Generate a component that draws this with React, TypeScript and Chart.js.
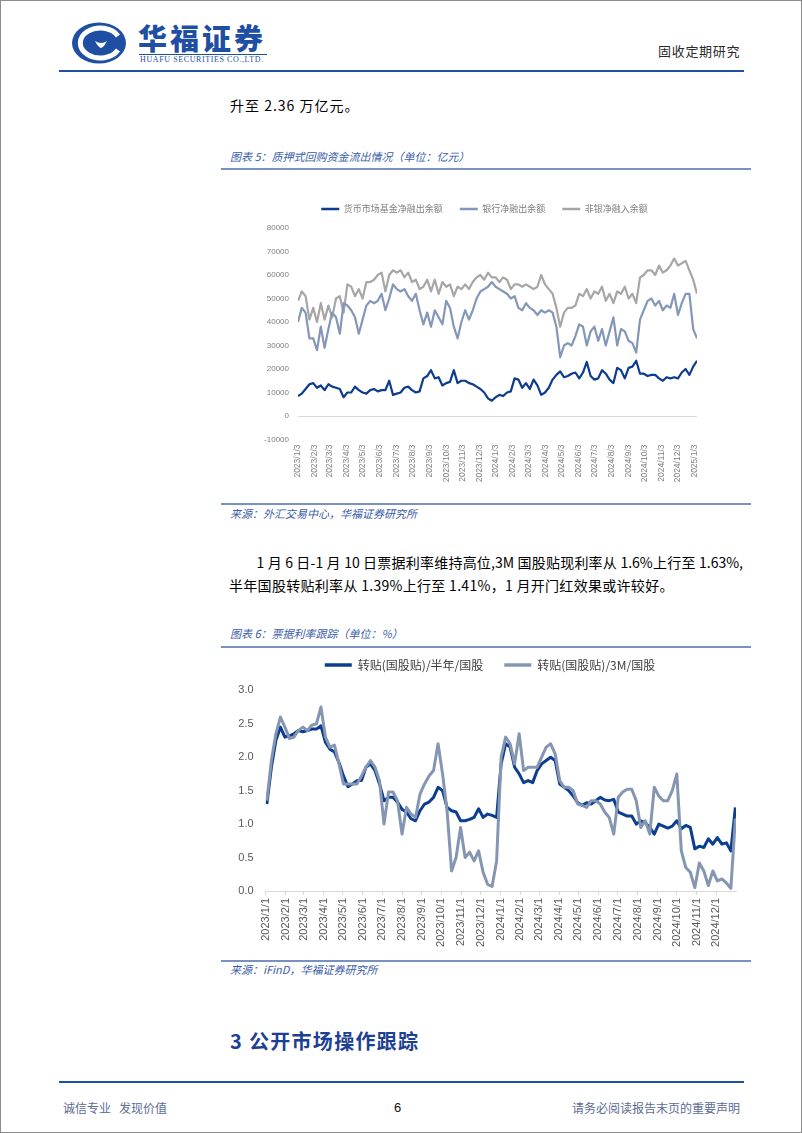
import React, { useEffect, useRef } from "react";
import { Chart, registerables } from "chart.js";
Chart.register(...registerables);

const CJK = '"Noto Sans CJK SC", "Noto Sans", sans-serif';
const NUM = '"Liberation Sans", Arial, sans-serif';

// ---------- 图表5 data (weekly samples, 亿元) ----------
const repoStart = "2023/1/3";
const repoStepDays = 7;
const repoAxisEnd = "2025/1/7";
const repoTickLabels = [
  "2023/1/3", "2023/2/3", "2023/3/3", "2023/4/3", "2023/5/3", "2023/6/3", "2023/7/3", "2023/8/3",
  "2023/9/3", "2023/10/3", "2023/11/3", "2023/12/3", "2024/1/3", "2024/2/3", "2024/3/3", "2024/4/3",
  "2024/5/3", "2024/6/3", "2024/7/3", "2024/8/3", "2024/9/3", "2024/10/3", "2024/11/3", "2024/12/3", "2025/1/3",
];
const repoSeriesNames = ["货币市场基金净融出余额", "银行净融出余额", "非银净融入余额"];
const moneyFundNet = [
  8500, 9500, 11500, 13500, 14000, 12000, 13000, 11000, 13500, 12500,
  12000, 11500, 8000, 10000, 10000, 12500, 11000, 10000, 9500, 11000,
  11500, 10500, 11000, 11000, 15000, 9000, 9500, 10000, 12000, 12500,
  11000, 10000, 10500, 16000, 17000, 19500, 16000, 16500, 13000, 14000,
  14500, 19500, 14000, 15000, 15000, 14000, 13500, 12500, 11500, 10000,
  7500, 6500, 8000, 9000, 8500, 10000, 10500, 16000, 15500, 12000,
  14000, 11500, 15500, 13000, 9000, 10000, 12000, 15500, 17500, 19000,
  16500, 17000, 18000, 18500, 16000, 18500, 23000, 17000, 15500, 16000,
  19500, 18000, 15500, 14000, 20500, 19500, 16000, 20500, 21000, 23500,
  18000, 18000, 17000, 17500, 17500, 16000, 15000, 16500, 16000, 16500,
  16000, 18500, 20000, 17500, 21000, 23500,
];
const bankNet = [
  40000, 46000, 44000, 33000, 33000, 28000, 38000, 29000, 37000, 44000,
  42000, 35000, 48000, 47000, 45000, 42000, 35000, 41000, 47000, 49000,
  48000, 49000, 52000, 45000, 50000, 56000, 54000, 53000, 54000, 51000,
  49000, 52000, 45000, 39000, 44000, 38000, 45000, 42000, 39000, 49000,
  46000, 38000, 33000, 40000, 45000, 41000, 45000, 50000, 53000, 54000,
  55000, 57000, 55000, 54000, 53000, 52000, 50000, 51000, 46000, 45000,
  48000, 46000, 45000, 43000, 45000, 44000, 45000, 44000, 38000, 25000,
  30000, 31000, 30000, 34000, 39000, 38000, 30000, 36000, 38000, 32000,
  37000, 30000, 36000, 42000, 30000, 37000, 36000, 32000, 31000, 27000,
  41000, 45000, 49000, 50000, 47000, 49000, 45000, 47000, 46000, 52000,
  43000, 48000, 52000, 52000, 37000, 33000,
];
const nonBankNet = [
  49000, 53000, 51000, 41000, 46000, 40000, 48000, 41000, 47000, 42000,
  50000, 51000, 44000, 56000, 55000, 51000, 54000, 50000, 57000, 57000,
  58000, 60000, 61000, 53000, 60000, 62000, 61000, 62000, 59000, 61000,
  57000, 58000, 54000, 55000, 58000, 53000, 58000, 52000, 57000, 55000,
  56000, 51000, 55000, 54000, 56000, 54000, 57000, 59000, 60000, 58000,
  61000, 59000, 59000, 57000, 59000, 58000, 54000, 56000, 56000, 55000,
  56000, 55000, 54000, 55000, 60000, 56000, 54000, 52000, 46000, 38000,
  44000, 46000, 46000, 47000, 52000, 51000, 54000, 50000, 53000, 52000,
  55000, 49000, 52000, 48000, 53000, 52000, 55000, 50000, 52000, 48000,
  59000, 60000, 62000, 62000, 60000, 64000, 61000, 62000, 64000, 67000,
  64000, 65000, 66000, 62000, 58000, 52000,
];
const repoYMin = -10000;
const repoYMax = 80000;
const repoYStep = 10000;

// ---------- 图表6 data (weekly samples, %) ----------
const billAxisStart = "2023/1/1";
const billAxisEnd = "2025/1/1";
const billStart = "2023/1/3";
const billStepDays = 7;
const billTickLabels = [
  "2023/1/1", "2023/2/1", "2023/3/1", "2023/4/1", "2023/5/1", "2023/6/1", "2023/7/1", "2023/8/1",
  "2023/9/1", "2023/10/1", "2023/11/1", "2023/12/1", "2024/1/1", "2024/2/1", "2024/3/1", "2024/4/1",
  "2024/5/1", "2024/6/1", "2024/7/1", "2024/8/1", "2024/9/1", "2024/10/1", "2024/11/1", "2024/12/1",
];
const billSeriesNames = ["转贴(国股贴)/半年/国股", "转贴(国股贴)/3M/国股"];
const halfYearRate = [
  1.30, 1.85, 2.25, 2.45, 2.30, 2.32, 2.35, 2.40, 2.38, 2.40,
  2.42, 2.42, 2.47, 2.22, 2.12, 2.08, 1.92, 1.72, 1.56, 1.60,
  1.65, 1.65, 1.85, 1.90, 1.80, 1.60, 1.35, 1.40, 1.40, 1.33,
  1.22, 1.18, 1.08, 1.05, 1.20, 1.30, 1.33, 1.40, 1.55, 1.50,
  1.25, 1.20, 1.18, 1.05, 1.05, 1.07, 1.10, 1.23, 1.10, 1.15,
  1.13, 1.10, 1.90, 2.20, 2.15, 1.85, 1.75, 1.62, 1.65, 1.62,
  1.80, 1.90, 1.95, 2.00, 1.95, 1.60, 1.55, 1.50, 1.42, 1.32,
  1.28, 1.32, 1.30, 1.35, 1.40, 1.36, 1.35, 1.37, 1.18, 1.15,
  1.12, 1.12, 1.00, 1.05, 1.02, 0.95, 0.85, 1.00, 0.97, 0.94,
  0.97, 1.05, 0.93, 0.98, 0.95, 0.63, 0.67, 0.65, 0.78, 0.70,
  0.80, 0.70, 0.72, 0.60, 1.25,
];
const threeMonthRate = [
  1.35, 1.95, 2.35, 2.60, 2.45, 2.28, 2.30, 2.40, 2.45, 2.40,
  2.48, 2.50, 2.75, 2.30, 2.15, 2.18, 1.90, 1.60, 1.60, 1.60,
  1.60, 1.72, 1.85, 1.95, 1.85, 1.65, 1.00, 1.48, 1.48, 1.35,
  0.85, 1.25, 1.15, 1.10, 1.45, 1.60, 1.72, 1.80, 2.20, 1.75,
  1.20, 0.30, 0.50, 0.95, 0.50, 0.58, 0.45, 0.60, 0.28, 0.10,
  0.07, 0.45, 2.00, 2.30, 2.20, 1.90, 2.35, 1.80, 1.85, 1.85,
  1.85, 2.00, 2.15, 2.20, 2.05, 1.65, 1.55, 1.55, 1.50, 1.30,
  1.28, 1.25, 1.35, 1.35, 1.30, 1.18, 1.10, 0.85, 1.40, 1.48,
  1.52, 1.52, 1.35, 0.95, 1.05, 0.85, 1.55, 1.42, 1.35, 1.35,
  1.50, 1.75, 0.60, 0.35, 0.28, 0.05, 0.42, 0.30, 0.08, 0.30,
  0.15, 0.18, 0.12, 0.04, 1.08,
];
const billYMin = 0;
const billYMax = 3;
const billYStep = 0.5;

// ---------- helpers ----------
const dayOf = (s: string) => {
  const [y, m, d] = s.split("/").map(Number);
  return Math.round(Date.UTC(y, m - 1, d) / 86400000);
};
const toPoints = (vals: number[], start: string, origin: string, step: number) => {
  const off = dayOf(start) - dayOf(origin);
  return vals.map((v, i) => ({ x: off + i * step, y: v }));
};

function legendPlacement(height: number, centerY: number, pad: number, fontSize: number, centerX: number) {
  return {
    id: "legendPlacement",
    beforeLayout(chart: any) {
      const lg = chart.legend;
      if (lg && !lg.__patched) {
        const orig = lg.fit.bind(lg);
        lg.fit = function () {
          orig();
          this.height = height;
        };
        lg.__patched = true;
      }
    },
    afterLayout(chart: any) {
      const lg = chart.legend;
      if (!lg) return;
      const top = centerY - pad - fontSize / 2;
      lg.top = top;
      lg.bottom = top + height;
      lg.left = 0;
      lg.right = centerX * 2;
    },
  };
}

const noBorderLabels = (chart: any) =>
  (Chart.defaults.plugins.legend.labels as any).generateLabels(chart).map((l: any) => ({ ...l, lineWidth: 0 }));

function CanvasChart(props: { left: number; top: number; width: number; height: number; make: () => any }) {
  const ref = useRef<HTMLCanvasElement | null>(null);
  useEffect(() => {
    if (!ref.current) return;
    const chart = new Chart(ref.current, props.make());
    return () => chart.destroy();
  }, []);
  return (
    <canvas
      ref={ref}
      width={props.width}
      height={props.height}
      style={{ position: "absolute", left: props.left, top: props.top, width: props.width, height: props.height }}
    />
  );
}

function makeRepoChart() {
  const origin = repoStart;
  const sets = [
    { label: repoSeriesNames[0], data: toPoints(moneyFundNet, repoStart, origin, repoStepDays), color: "#0d3b8e", w: 2.2 },
    { label: repoSeriesNames[1], data: toPoints(bankNet, repoStart, origin, repoStepDays), color: "#8497b8", w: 2.2 },
    { label: repoSeriesNames[2], data: toPoints(nonBankNet, repoStart, origin, repoStepDays), color: "#a6a6a6", w: 2.2 },
  ];
  const tickVals = repoTickLabels.map((l) => dayOf(l) - dayOf(origin));
  return {
    type: "line",
    data: {
      datasets: sets.map((s) => ({
        label: s.label,
        data: s.data,
        borderColor: s.color,
        backgroundColor: s.color,
        borderWidth: s.w,
        pointRadius: 0,
        tension: 0,
        fill: false,
        borderJoinStyle: "round",
      })),
    },
    options: {
      responsive: false,
      animation: false,
      devicePixelRatio: 1,
      layout: { padding: { left: 0, right: 54, top: 0, bottom: 0 } },
      plugins: {
        tooltip: { enabled: false },
        legend: {
          display: true,
          position: "top",
          labels: {
            boxWidth: 18,
            boxHeight: 2.5,
            padding: 17,
            color: "#7f7f7f",
            font: { family: CJK, size: 9 },
            generateLabels: noBorderLabels,
          },
        },
      },
      scales: {
        x: {
          type: "linear",
          min: 0,
          max: dayOf(repoAxisEnd) - dayOf(origin),
          afterBuildTicks: (s: any) => {
            s.ticks = tickVals.map((v) => ({ value: v }));
          },
          afterFit: (s: any) => {
            s.height = 56.5;
          },
          grid: { display: false, drawTicks: false },
          border: { display: false },
          ticks: {
            autoSkip: false,
            minRotation: 90,
            maxRotation: 90,
            padding: 5,
            color: "#7f7f7f",
            font: { family: NUM, size: 8.5 },
            callback: (_v: any, i: number) => repoTickLabels[i],
          },
        },
        y: {
          min: repoYMin,
          max: repoYMax,
          afterFit: (s: any) => {
            s.width = 77;
          },
          grid: {
            drawTicks: false,
            color: (ctx: any) => (ctx.tick && ctx.tick.value === 0 ? "#d9d9d9" : "rgba(0,0,0,0)"),
          },
          border: { display: false },
          ticks: {
            stepSize: repoYStep,
            padding: 9,
            color: "#7f7f7f",
            font: { family: NUM, size: 8 },
            callback: (v: any) => String(v),
          },
        },
      },
    },
    plugins: [legendPlacement(52, 33, 17, 9, 263.5)],
  };
}

function makeBillChart() {
  const origin = billAxisStart;
  const tickVals = billTickLabels.map((l) => dayOf(l) - dayOf(origin));
  const sets = [
    { label: billSeriesNames[1], data: toPoints(threeMonthRate, billStart, origin, billStepDays), color: "#8596b2" },
    { label: billSeriesNames[0], data: toPoints(halfYearRate, billStart, origin, billStepDays), color: "#0b3d91" },
  ];
  return {
    type: "line",
    data: {
      datasets: sets.map((s) => ({
        label: s.label,
        data: s.data,
        borderColor: s.color,
        backgroundColor: s.color,
        borderWidth: 3,
        pointRadius: 0,
        tension: 0,
        fill: false,
        borderJoinStyle: "round",
      })),
    },
    options: {
      responsive: false,
      animation: false,
      devicePixelRatio: 1,
      layout: { padding: { left: 0, right: 15, top: 0, bottom: 0 } },
      plugins: {
        tooltip: { enabled: false },
        legend: {
          display: true,
          position: "top",
          reverse: true,
          labels: {
            boxWidth: 27,
            boxHeight: 3.5,
            padding: 21,
            color: "#404040",
            font: { family: CJK, size: 12 },
            generateLabels: noBorderLabels,
          },
        },
      },
      scales: {
        x: {
          type: "linear",
          min: 0,
          max: dayOf(billAxisEnd) - dayOf(origin),
          afterBuildTicks: (s: any) => {
            s.ticks = tickVals.map((v) => ({ value: v }));
          },
          afterFit: (s: any) => {
            s.height = 68;
          },
          grid: { display: true, drawOnChartArea: false, drawTicks: true, tickLength: 4, color: "#d9d9d9" },
          border: { display: true, color: "#d9d9d9" },
          ticks: {
            autoSkip: false,
            minRotation: 90,
            maxRotation: 90,
            padding: 3,
            color: "#595959",
            font: { family: NUM, size: 11 },
            callback: (_v: any, i: number) => billTickLabels[i],
          },
        },
        y: {
          min: billYMin,
          max: billYMax,
          afterFit: (s: any) => {
            s.width = 44.6;
          },
          grid: { display: false, drawTicks: false },
          border: { display: false },
          ticks: {
            stepSize: billYStep,
            padding: 12,
            color: "#595959",
            font: { family: NUM, size: 11 },
            callback: (v: any) => Number(v).toFixed(1),
          },
        },
      },
    },
    plugins: [legendPlacement(41.3, 16, 21, 12, 269)],
  };
}

function Txt(p: { x: number; cy: number; size: number; color?: string; children: any; style?: any }) {
  const lh = Math.round(p.size * 1.5);
  return (
    <div
      style={{
        position: "absolute",
        left: p.x,
        top: p.cy - lh / 2,
        fontSize: p.size,
        lineHeight: lh + "px",
        height: lh,
        color: p.color ?? "#000",
        whiteSpace: "nowrap",
        fontFamily: CJK,
        ...p.style,
      }}
    >
      {p.children}
    </div>
  );
}

function HLine(p: { x1: number; x2: number; y: number; h: number; color: string }) {
  return (
    <div style={{ position: "absolute", left: p.x1, top: p.y - p.h / 2, width: p.x2 - p.x1, height: p.h, background: p.color }} />
  );
}

const BLUE = "#1f4fa3";
const CAP = "#3a5ca8";
const RULE = "#7891c0";

export default function App() {
  return (
    <div
      style={{
        position: "absolute",
        left: 0,
        top: 0,
        width: 802,
        height: 1133,
        boxSizing: "border-box",
        border: "1px solid #8c8c8c",
        background: "#fff",
        overflow: "hidden",
        fontFamily: CJK,
      }}
    >
      {/* logo */}
      <svg style={{ position: "absolute", left: 70, top: 21 }} width={56} height={42} viewBox="0 0 56 42">
        <ellipse cx="28" cy="21" rx="27" ry="20.5" fill={BLUE} />
        <path d="M 47 14 A 20 15 0 1 0 47 28" stroke="#fff" strokeWidth="5" fill="none" />
        <path d="M 16 19 Q 22 11 30 16 Q 38 11 44 19 Q 36 30 30 31 Q 24 30 16 19 Z" fill={BLUE} />
        <path d="M 24 19 Q 30 23 36 19 Q 33 25 30 26 Q 27 25 24 19 Z" fill="#fff" />
      </svg>
      <Txt x={137} cy={36} size={29} color={BLUE} style={{ fontWeight: 900, letterSpacing: 3 }}>
        华福证券
      </Txt>
      <HLine x1={138} x2={266} y={53} h={1} color={BLUE} />
      <Txt x={139} cy={58.5} size={8} color={BLUE} style={{ fontFamily: '"Liberation Serif", serif', letterSpacing: 0.6 }}>
        HUAFU SECURITIES CO.,LTD.
      </Txt>
      <Txt x={657} cy={50} size={13} color="#2b2b2b" style={{ letterSpacing: 0.7 }}>
        固收定期研究
      </Txt>
      <HLine x1={58} x2={743} y={70} h={2} color={BLUE} />

      <Txt x={229} cy={104} size={14} style={{ letterSpacing: 1 }}>
        升至 2.36 万亿元。
      </Txt>

      {/* figure 5 */}
      <Txt x={229} cy={155} size={11} color={CAP} style={{ fontStyle: "italic" }}>
        图表 5：质押式回购资金流出情况（单位：亿元）
      </Txt>
      <HLine x1={220} x2={750} y={168} h={1.5} color={RULE} />
      <CanvasChart left={220} top={175} width={530} height={320} make={makeRepoChart} />
      <HLine x1={220} x2={750} y={503} h={1.5} color={RULE} />
      <Txt x={229} cy={512} size={11} color={CAP} style={{ fontStyle: "italic" }}>
        来源：外汇交易中心，华福证券研究所
      </Txt>

      {/* paragraph */}
      <Txt x={255.5} cy={561.5} size={14} style={{ width: 486.5, textAlign: "justify", textAlignLast: "justify" }}>
        1 月 6 日-1 月 10 日票据利率维持高位,3M 国股贴现利率从 1.6%上行至 1.63%,
      </Txt>
      <Txt x={228} cy={584} size={14} style={{ letterSpacing: 0.3 }}>
        半年国股转贴利率从 1.39%上行至 1.41%，1 月开门红效果或许较好。
      </Txt>

      {/* figure 6 */}
      <Txt x={229} cy={632} size={11} color={CAP} style={{ fontStyle: "italic" }}>
        图表 6：票据利率跟踪（单位：%）
      </Txt>
      <HLine x1={220} x2={750} y={646} h={1.5} color={RULE} />
      <CanvasChart left={220} top={648} width={530} height={310} make={makeBillChart} />
      <HLine x1={220} x2={750} y={960} h={1.5} color={RULE} />
      <Txt x={229} cy={968} size={11} color={CAP} style={{ fontStyle: "italic" }}>
        来源：iFinD，华福证券研究所
      </Txt>

      <Txt x={229} cy={1040} size={20} color="#1d3f94" style={{ fontWeight: 700, letterSpacing: 1.3 }}>
        3 公开市场操作跟踪
      </Txt>

      {/* footer */}
      <HLine x1={58} x2={743} y={1081} h={2} color={BLUE} />
      <Txt x={62} cy={1107} size={12} color="#5b6b95">
        诚信专业&nbsp;&nbsp;&nbsp;发现价值
      </Txt>
      <Txt x={393} cy={1107} size={13} color="#111" style={{ fontFamily: NUM }}>
        6
      </Txt>
      <Txt x={571} cy={1107} size={12} color="#5b6b95">
        请务必阅读报告末页的重要声明
      </Txt>
    </div>
  );
}
